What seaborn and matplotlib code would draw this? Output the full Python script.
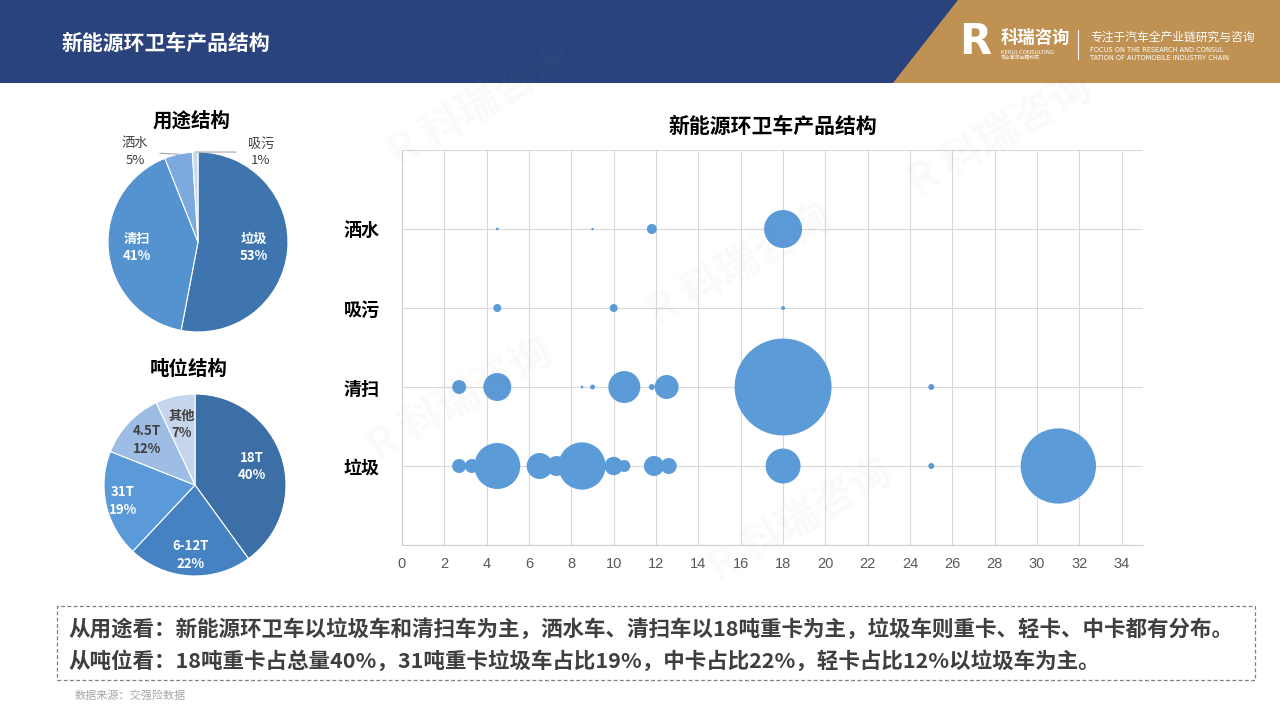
import matplotlib.pyplot as plt
import seaborn as sns
import pandas as pd
import numpy as np
from matplotlib.patches import Rectangle, Polygon

# ---- data ----
use_labels = ['垃圾', '清扫', '洒水', '吸污']
use_share = [53, 41, 5, 1]
use_colors = ['#3f75ae', '#5592d0', '#7caadf', '#c9d9ee']

ton_labels = ['18T', '6-12T', '31T', '4.5T', '其他']
ton_share = [40, 22, 19, 12, 7]
ton_colors = ['#3c6fa5', '#4682c2', '#5a9ad9', '#9dbde4', '#c5d5ec']

rows = ['垃圾', '清扫', '吸污', '洒水']

# tonnage (x) and bubble weight for each purpose
garbage_x = [2.7, 3.3, 4.5, 6.5, 7.3, 8.5, 9.0, 10.0, 10.5, 11.9, 12.6, 18, 25, 31, 32]
garbage_w = [49, 49, 529, 169, 100, 560, 25, 85, 36, 100, 64, 306, 9, 1420, 49]
sweep_x = [2.7, 4.5, 8.5, 9.0, 10.5, 11.8, 12.5, 18, 25]
sweep_w = [49, 196, 2, 6, 256, 9, 144, 2352, 9]
suction_x = [4.5, 10, 18]
suction_w = [16, 16, 4]
sprinkle_x = [4.5, 9.0, 11.8, 18]
sprinkle_w = [2, 1.5, 25, 361]

x_ticks = list(range(0, 35, 2))

note1 = '从用途看：新能源环卫车以垃圾车和清扫车为主，洒水车、清扫车以18吨重卡为主，垃圾车则重卡、轻卡、中卡都有分布。'
note2 = '从吨位看：18吨重卡占总量40%，31吨重卡垃圾车占比19%，中卡占比22%，轻卡占比12%以垃圾车为主。'

sns.set_style('white')
plt.rcParams['font.family'] = ['Noto Sans CJK SC', 'DejaVu Sans']

fig = plt.figure(figsize=(12.8, 7.2), dpi=100)

# ---- header ----
fig.patches.append(Rectangle((0, 1 - 83 / 720), 1, 83 / 720, transform=fig.transFigure,
                             facecolor='#2a437d', edgecolor='none', zorder=0))
fig.patches.append(Polygon([(958 / 1280, 1), (1, 1), (1, 1 - 83 / 720), (893 / 1280, 1 - 83 / 720)],
                           closed=True, transform=fig.transFigure,
                           facecolor='#bf9152', edgecolor='none', zorder=0))
fig.text(62 / 1280, 1 - 43 / 720, '新能源环卫车产品结构', color='white', fontsize=15,
         fontweight='bold', va='center', ha='left')
fig.text(975 / 1280, 1 - 42 / 720, 'R', color='white', fontsize=30, fontweight='bold',
         va='center', ha='center', family='DejaVu Sans')
fig.text(1001 / 1280, 1 - 38 / 720, '科瑞咨询', color='white', fontsize=12.5, fontweight='bold',
         va='center', ha='left')
fig.text(1001 / 1280, 1 - 52 / 720, 'KERUI CONSULTING', color='white', fontsize=4,
         va='center', ha='left', family='DejaVu Sans')
fig.text(1001 / 1280, 1 - 58 / 720, '专业高效前瞻权威', color='white', fontsize=3.5,
         va='center', ha='left')
fig.lines.append(plt.Line2D([1078 / 1280, 1078 / 1280], [1 - 30 / 720, 1 - 59 / 720],
                            transform=fig.transFigure, color='white', lw=0.8))
fig.text(1090 / 1280, 1 - 37 / 720, '专注于汽车全产业链研究与咨询', color='white', fontsize=8.5,
         va='center', ha='left')
fig.text(1090 / 1280, 1 - 50 / 720, 'FOCUS ON THE RESEARCH AND CONSUL', color='white', fontsize=4.8,
         va='center', ha='left', family='DejaVu Sans')
fig.text(1090 / 1280, 1 - 58 / 720, 'TATION OF AUTOMOBILE INDUSTRY CHAIN', color='white', fontsize=4.8,
         va='center', ha='left', family='DejaVu Sans')

# faint watermarks
for wx, wy in [(1000, 135), (740, 265), (460, 400), (800, 520), (480, 105)]:
    fig.text(wx / 1280, 1 - wy / 720, 'R 科瑞咨询', color='#808080', alpha=0.045, fontsize=30,
             fontweight='bold', rotation=30, ha='center', va='center', zorder=0)


def draw_pie(rect, values, labels, colors, title, title_y, inside, dists, text_colors):
    ax = fig.add_axes(rect)
    wedges, _ = ax.pie(values, colors=colors, startangle=90, counterclock=False,
                       wedgeprops=dict(edgecolor='white', linewidth=0.8))
    ax.set_xlim(-1, 1)
    ax.set_ylim(-1, 1)
    ax.set_aspect('equal')
    fig.text(rect[0] + rect[2] / 2 - 6 / 1280, 1 - title_y / 720, title, fontsize=14,
             fontweight='bold', color='black', ha='center', va='center')
    for w, lab, v, ins, d, tc in zip(wedges, labels, values, inside, dists, text_colors):
        ang = np.deg2rad((w.theta1 + w.theta2) / 2)
        txt = f'{lab}\n{v}%'
        if ins:
            ax.text(d * np.cos(ang), d * np.sin(ang), txt, ha='center', va='center',
                    fontsize=9.5, fontweight='bold', color=tc, linespacing=1.3)
        else:
            ex, ey = np.cos(ang), np.sin(ang)
            ax.annotate(txt, xy=(ex, ey), xytext=d, ha='center', va='center',
                        fontsize=9.5, color=tc, linespacing=1.3, annotation_clip=False,
                        arrowprops=dict(arrowstyle='-', color='#a6a6a6', lw=0.8,
                                        shrinkA=6, shrinkB=0))
    return ax


draw_pie([108 / 1280, 1 - 332 / 720, 180 / 1280, 180 / 720], use_share, use_labels, use_colors,
         '用途结构', 121, [True, True, False, False], [0.62, 0.68, (-0.7, 1.0), (0.7, 1.0)],
         ['white', 'white', '#404040', '#404040'])

draw_pie([104 / 1280, 1 - 576 / 720, 182 / 1280, 182 / 720], ton_share, ton_labels, ton_colors,
         '吨位结构', 369, [True] * 5, [0.66, 0.77, 0.81, 0.72, 0.68],
         ['white', 'white', 'white', '#404040', '#404040'])

# ---- bubble chart ----
frames = []
for name, xs, ws in [('垃圾', garbage_x, garbage_w), ('清扫', sweep_x, sweep_w),
                     ('吸污', suction_x, suction_w), ('洒水', sprinkle_x, sprinkle_w)]:
    frames.append(pd.DataFrame({'吨位': xs, '数量': ws, '用途': name}))
df = pd.concat(frames, ignore_index=True)
df['y'] = df['用途'].map({r: i + 1 for i, r in enumerate(rows)})
df = df.sort_values('数量', ascending=False)

ax = fig.add_axes([402 / 1280, 1 - 545 / 720, 741 / 1280, 395 / 720])
max_w = max(sweep_w)
sns.scatterplot(data=df, x='吨位', y='y', size='数量', sizes=(0, max_w * 2.07),
                size_norm=(0, max_w), color='#5b9bd8', edgecolor='none', alpha=1,
                legend=False, ax=ax, zorder=3)
ax.set_xlim(0, 35)
ax.set_ylim(0, 5)
ax.set_xticks(x_ticks)
ax.set_xticklabels([str(t) for t in x_ticks], color='#595959', fontsize=10.5,
                   family=['Liberation Sans Narrow', 'Liberation Sans'])
ax.set_yticks(range(0, 6))
ax.set_yticklabels([''] + rows + [''], fontsize=13, fontweight='bold', color='black')
ax.tick_params(axis='x', length=0, pad=9)
ax.tick_params(axis='y', length=0, pad=16)
ax.grid(True, color='#d9d9d9', lw=0.8)
ax.set_axisbelow(True)
for s in ['top', 'right']:
    ax.spines[s].set_visible(False)
for s in ['left', 'bottom']:
    ax.spines[s].set_color('#d0d0d0')
    ax.spines[s].set_linewidth(0.8)
ax.set_xlabel('')
ax.set_ylabel('')
ax.set_title('新能源环卫车产品结构', fontsize=15, fontweight='bold', color='black', pad=12)

# ---- notes ----
fig.patches.append(Rectangle((57 / 1280, 1 - 680 / 720), 1198 / 1280, 74 / 720,
                             transform=fig.transFigure, facecolor='none',
                             edgecolor='#7f7f7f', lw=0.9, ls=(0, (3, 2))))
fig.text(68 / 1280, 1 - 629 / 720, note1, fontsize=15.5, fontweight='bold', color='#3f3f3f',
         va='center', ha='left')
fig.text(68 / 1280, 1 - 661 / 720, note2, fontsize=15.5, fontweight='bold', color='#3f3f3f',
         va='center', ha='left')
fig.text(75 / 1280, 1 - 696 / 720, '数据来源：交强险数据', fontsize=8, color='#a6a6a6',
         va='center', ha='left')

fig.savefig('out.png', dpi=100)
